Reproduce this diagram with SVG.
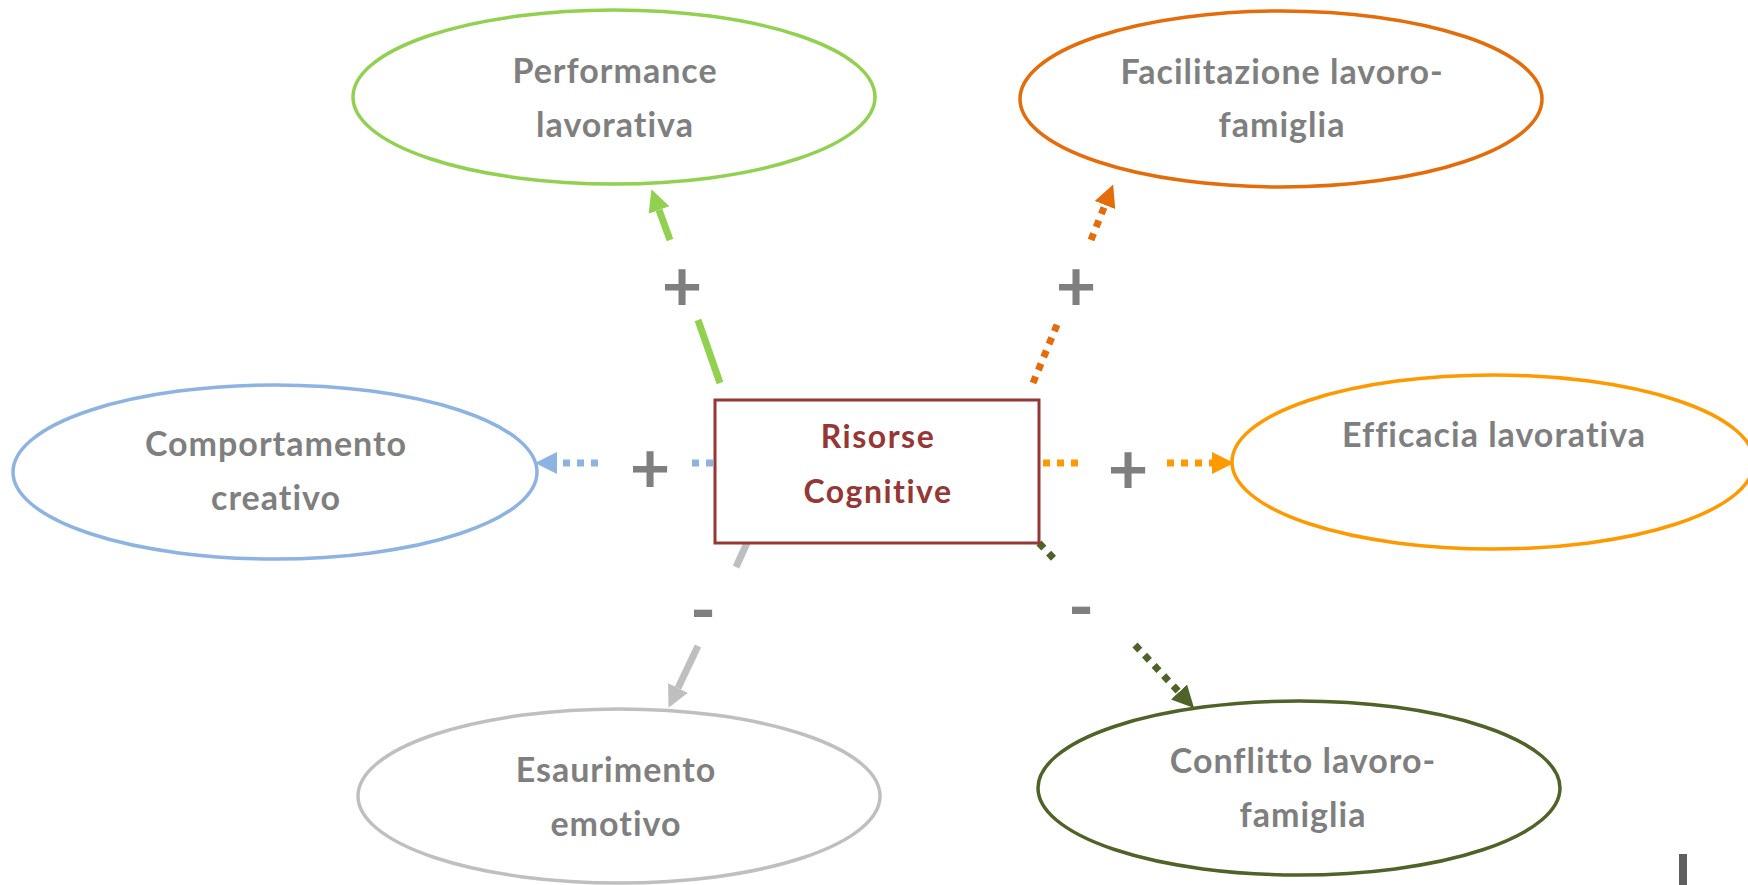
<svg xmlns="http://www.w3.org/2000/svg" width="1748" height="885" viewBox="0 0 1748 885">
<style>
.lbl{font-family:Lato,"Open Sans","Liberation Sans",sans-serif;font-weight:700;font-size:34px;letter-spacing:1px;font-variant-ligatures:none;fill:#7f7f7f;text-anchor:middle}
.ctr{font-family:Lato,"Open Sans","Liberation Sans",sans-serif;font-weight:700;font-size:32px;letter-spacing:1.5px;font-variant-ligatures:none;fill:#953735;text-anchor:middle}
.sign{font-family:Lato,"Open Sans","Liberation Sans",sans-serif;font-weight:700;font-size:70px;fill:#7f7f7f;text-anchor:middle}
ellipse{fill:#fff;stroke-width:3.5}
.ln{fill:none;stroke-width:7}
.dot{fill:none;stroke-width:7;stroke-dasharray:7 7}
</style>
<defs>
<marker id="aGreen" markerUnits="userSpaceOnUse" markerWidth="24" markerHeight="24" refX="0" refY="11" orient="auto" viewBox="0 0 24 22"><path d="M0,0 L22,11 L0,22 z" fill="#92d050"/></marker>
<marker id="aOrangeD" markerUnits="userSpaceOnUse" markerWidth="24" markerHeight="24" refX="0" refY="11" orient="auto" viewBox="0 0 24 22"><path d="M0,0 L22,11 L0,22 z" fill="#e46c0a"/></marker>
<marker id="aBlue" markerUnits="userSpaceOnUse" markerWidth="24" markerHeight="24" refX="0" refY="11" orient="auto" viewBox="0 0 24 22"><path d="M0,0 L22,11 L0,22 z" fill="#8db3e2"/></marker>
<marker id="aOrange" markerUnits="userSpaceOnUse" markerWidth="24" markerHeight="24" refX="0" refY="11" orient="auto" viewBox="0 0 24 22"><path d="M0,0 L22,11 L0,22 z" fill="#ff9900"/></marker>
<marker id="aGray" markerUnits="userSpaceOnUse" markerWidth="24" markerHeight="24" refX="0" refY="11" orient="auto" viewBox="0 0 24 22"><path d="M0,0 L22,11 L0,22 z" fill="#bfbfbf"/></marker>
<marker id="aDGreen" markerUnits="userSpaceOnUse" markerWidth="24" markerHeight="24" refX="0" refY="11" orient="auto" viewBox="0 0 24 22"><path d="M0,0 L22,11 L0,22 z" fill="#4f6228"/></marker>
</defs>
<rect width="1748" height="885" fill="#fff"/>

<g id="connectors">
  <line class="ln" stroke="#92d050" x1="720" y1="383" x2="698" y2="320"/>
  <line class="ln" stroke="#92d050" x1="670" y1="240" x2="659" y2="210" marker-end="url(#aGreen)"/>
  <line class="dot" stroke="#e46c0a" x1="1033" y1="383" x2="1059" y2="320"/>
  <line class="dot" stroke="#e46c0a" x1="1091" y1="240" x2="1105" y2="205" marker-end="url(#aOrangeD)"/>
  <line class="dot" stroke="#8db3e2" x1="713" y1="463" x2="688" y2="463"/>
  <line class="dot" stroke="#8db3e2" x1="598" y1="463" x2="557" y2="463" marker-end="url(#aBlue)"/>
  <line class="dot" stroke="#ff9900" x1="1043" y1="463" x2="1080" y2="463"/>
  <line class="dot" stroke="#ff9900" x1="1167" y1="463" x2="1212" y2="463" marker-end="url(#aOrange)"/>
  <line class="ln" stroke="#bfbfbf" x1="747" y1="543" x2="736" y2="567"/>
  <line class="ln" stroke="#bfbfbf" x1="698" y1="646" x2="678" y2="688" marker-end="url(#aGray)"/>
  <line class="dot" stroke="#4f6228" x1="1039" y1="543" x2="1058" y2="563"/>
  <line class="dot" stroke="#4f6228" x1="1135" y1="645" x2="1179" y2="692" marker-end="url(#aDGreen)"/>
  <text class="sign" x="682" y="311">+</text>
  <text class="sign" x="1076" y="311">+</text>
  <text class="sign" x="650" y="493">+</text>
  <text class="sign" x="1128" y="494">+</text>
  <text class="sign" x="703" y="635">-</text>
  <text class="sign" x="1081" y="632">-</text>
</g>

<g id="n-performance">
  <ellipse cx="614" cy="97" rx="261" ry="87" stroke="#92d050"/>
  <text class="lbl" x="615" y="83">Performance</text>
  <text class="lbl" x="615" y="137">lavorativa</text>
</g>
<g id="n-facilitazione">
  <ellipse cx="1281" cy="99" rx="261" ry="88" stroke="#e46c0a"/>
  <text class="lbl" x="1282" y="84">Facilitazione lavoro-</text>
  <text class="lbl" x="1282" y="137">famiglia</text>
</g>
<g id="n-comportamento">
  <ellipse cx="275" cy="472" rx="262" ry="87" stroke="#8db3e2"/>
  <text class="lbl" x="276" y="456">Comportamento</text>
  <text class="lbl" x="276" y="510">creativo</text>
</g>
<g id="n-efficacia">
  <ellipse cx="1493" cy="462" rx="261" ry="87" stroke="#ff9900"/>
  <text class="lbl" x="1494" y="447">Efficacia lavorativa</text>
</g>
<g id="n-esaurimento">
  <ellipse cx="619" cy="796" rx="261" ry="87" stroke="#bfbfbf"/>
  <text class="lbl" x="616" y="782">Esaurimento</text>
  <text class="lbl" x="616" y="836">emotivo</text>
</g>
<g id="n-conflitto">
  <ellipse cx="1299" cy="788" rx="261" ry="87" stroke="#4f6228"/>
  <text class="lbl" x="1303" y="773">Conflitto lavoro-</text>
  <text class="lbl" x="1303" y="827">famiglia</text>
</g>
<g id="n-risorse">
  <rect x="715" y="400" width="324" height="143" fill="#fff" stroke="#953735" stroke-width="3"/>
  <text class="ctr" x="878" y="448">Risorse</text>
  <text class="ctr" x="878" y="503">Cognitive</text>
</g>
<rect x="1679" y="854" width="8" height="31" fill="#5f5f5f"/>
</svg>
